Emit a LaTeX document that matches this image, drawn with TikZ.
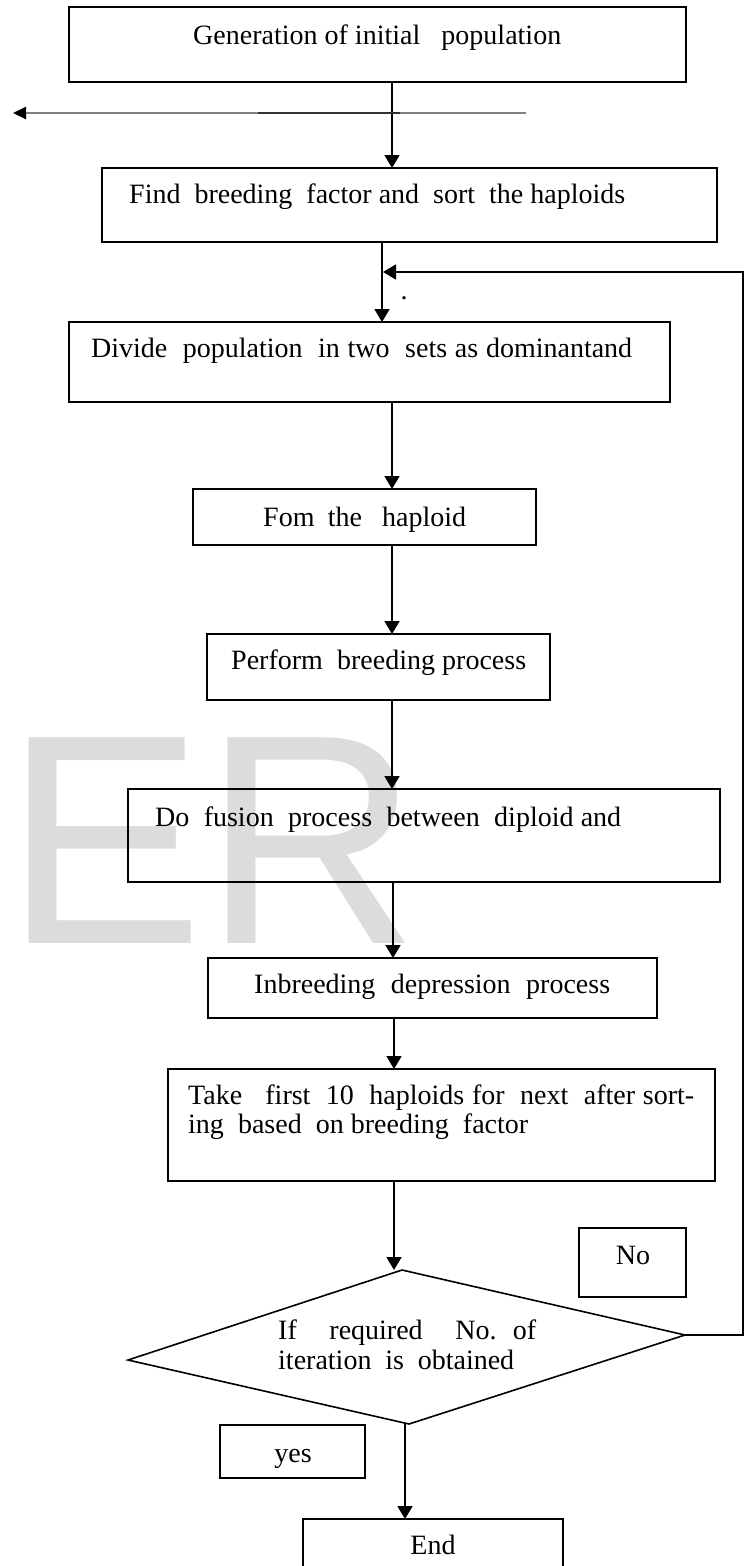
\documentclass[tikz,border=0pt]{standalone}
\usepackage{fontspec}
\setmainfont{Liberation Serif}
\newfontfamily\wmfont{Liberation Sans}
\usetikzlibrary{arrows.meta}
\definecolor{wmgray}{RGB}{220,220,220}
\begin{document}
\begin{tikzpicture}[x=1pt,y=-1pt,
  boxline/.style={draw=black, line width=1.8pt, inner sep=0pt, outer sep=0pt},
  lbl/.style={inner sep=0pt, anchor=base west, font=\fontsize{28}{30}\selectfont},
  clbl/.style={inner sep=0pt, anchor=base, font=\fontsize{28}{30}\selectfont},
  flow/.style={line width=1.8pt, -{Triangle[length=13pt,width=15pt]}},
]
\useasboundingbox (0,0) rectangle (747,1566);
\clip (0,0) rectangle (747,1566);
\fill[white] (0,0) rectangle (747,1566);

% watermark
\node[anchor=base west, inner sep=0pt, text=wmgray, font=\wmfont\fontsize{299}{299}\selectfont] (wm) at (4,943) {ER};

% boxes
\node[boxline, minimum width=617pt, minimum height=75pt] (b1) at (377.5,44.5) {};
\node[boxline, minimum width=615pt, minimum height=74pt] (b2) at (409.5,205) {};
\node[boxline, minimum width=601pt, minimum height=80pt] (b3) at (369.5,362) {};
\node[boxline, minimum width=343pt, minimum height=56pt] (b4) at (364.5,517) {};
\node[boxline, minimum width=343pt, minimum height=66pt] (b5) at (378.5,667) {};
\node[boxline, minimum width=592pt, minimum height=93pt] (b6) at (424,835.5) {};
\node[boxline, minimum width=449pt, minimum height=60pt] (b7) at (432.5,988) {};
\node[boxline, minimum width=547pt, minimum height=112pt] (b8) at (441.5,1125) {};
\node[boxline, minimum width=107pt, minimum height=69pt] (bno) at (632.5,1262.5) {};
\node[boxline, minimum width=145pt, minimum height=53pt] (byes) at (292.5,1451.5) {};
\node[boxline, minimum width=260pt, minimum height=71pt] (bend) at (433,1554.5) {};

% decision diamond
\coordinate (dT) at (402,1270);
\coordinate (dR) at (685,1335);
\coordinate (dB) at (409,1424);
\coordinate (dL) at (128,1360);
\draw[line width=1.6pt, line join=miter] (dT) -- (dR) -- (dB) -- (dL) -- cycle;

% texts
\node[lbl] (t1) at (193,44) {\makebox[368pt][s]{Generation of initial\ \ \ population}};
\node[lbl] (t2) at (129,203) {\makebox[496pt][s]{Find\ \ breeding\ \ factor and\ \ sort\ \ the haploids}};
\node[lbl] (t3) at (91,357) {\makebox[541pt][s]{Divide\ \ population\ \ in two\ \ sets as dominantand}};
\node[lbl] (t4) at (263,526) {\makebox[203pt][s]{Fom\ \ the\ \ \ haploid}};
\node[lbl] (t5) at (231,669) {\makebox[295pt][s]{Perform\ \ breeding process}};
\node[lbl] (t6) at (155,826) {\makebox[466pt][s]{Do\ \ fusion\ \ process\ \ between\ \ diploid and}};
\node[lbl] (t7) at (254,993) {\makebox[356pt][s]{Inbreeding\ \ depression\ \ process}};
\node[lbl] (t8a) at (188,1104) {\makebox[506pt][s]{Take\ \ \ first\ \ 10\ \ haploids for\ \ next\ \ after sort-}};
\node[lbl] (t8b) at (188,1133) {\makebox[340pt][s]{ing\ \ based\ \ on breeding\ \ factor}};
\node[lbl] (t9a) at (278,1339) {\makebox[258pt][s]{If\ \ \ \ required\ \ \ \ No.\ \ of}};
\node[lbl] (t9b) at (278,1369) {\makebox[236pt][s]{iteration\ \ is\ \ obtained}};
\node[clbl] (tno) at (633,1264) {No};
\node[clbl] (tyes) at (293,1462) {yes};
\node[clbl] (tend) at (433,1554) {End};
\node[clbl] (dot) at (404,299) {.};

% x positions of the vertical connectors
\coordinate (x1) at (392,0);
\coordinate (x2) at (382,0);
\coordinate (x3) at (393,0);
\coordinate (x4) at (394,0);
\coordinate (x5) at (405,0);

\draw[flow] (b1.south -| x1) -- (b2.north -| x1);
\draw[flow] (b2.south -| x2) -- (b3.north -| x2);
\draw[flow] (b3.south -| x1) -- (b4.north -| x1);
\draw[flow] (b4.south -| x1) -- (b5.north -| x1);
\draw[flow] (b5.south -| x1) -- (b6.north -| x1);
\draw[flow] (b6.south -| x3) -- (b7.north -| x3);
\draw[flow] (b7.south -| x4) -- (b8.north -| x4);
\draw[flow] (b8.south -| x4) -- (x4 |- dT);
\draw[flow] (x5 |- dB) -- (bend.north -| x5);

% feedback loop
\coordinate (fb1) at (743,1335);
\coordinate (fb2) at (743,272);
\coordinate (fb3) at (383,272);
\draw[flow] (dR) -- (fb1) -- (fb2) -- (fb3);

% stray left arrow
\coordinate (laR) at (526,113);
\coordinate (laL) at (13,113);
\coordinate (laM1) at (400,113);
\coordinate (laM2) at (258,113);
\draw[line width=2.2pt, black!50, -{Triangle[length=13pt,width=12pt,color=black]}] (laR) -- (laL);
\draw[line width=1.8pt, black!80] (laM1) -- (laM2);
\end{tikzpicture}
\end{document}
